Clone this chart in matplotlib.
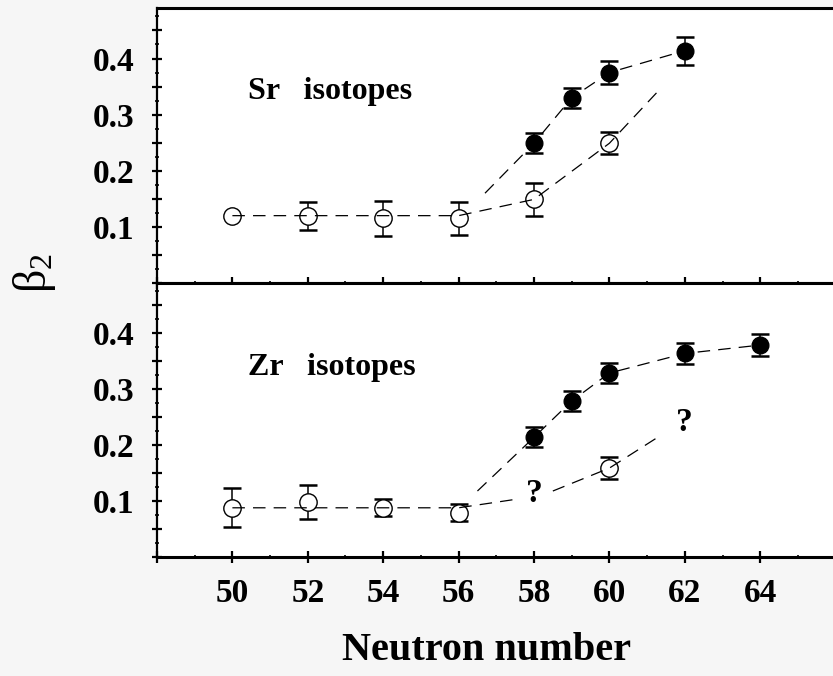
import numpy as np
import matplotlib
matplotlib.use("Agg")
import matplotlib.pyplot as plt
from matplotlib.ticker import MultipleLocator, FuncFormatter

plt.rcParams['font.family'] = ['Liberation Serif', 'DejaVu Serif']
plt.rcParams['mathtext.fontset'] = 'custom'
plt.rcParams['mathtext.rm'] = 'Liberation Serif'
plt.rcParams['mathtext.it'] = 'Liberation Serif:italic'
plt.rcParams['mathtext.bf'] = 'Liberation Serif:bold'

# ---- Sr isotopes ----
sr_open_N = [50, 52, 54, 56, 58, 60]
sr_open_b = [0.120, 0.120, 0.115, 0.115, 0.149, 0.249]
sr_open_err = [0.0, 0.025, 0.032, 0.030, 0.030, 0.020]

sr_full_N = [58, 59, 60, 62]
sr_full_b = [0.249, 0.330, 0.375, 0.414]
sr_full_err = [0.018, 0.018, 0.020, 0.025]

sr_open_guide_N = [50, 56, 58, 60, 61.35]
sr_open_guide_b = [0.120, 0.120, 0.149, 0.249, 0.346]
sr_full_guide_N = [56.7, 58, 59, 60, 62]
sr_full_guide_b = [0.160, 0.249, 0.330, 0.375, 0.414]

# ---- Zr isotopes ----
zr_open_N = [50, 52, 54, 56, 60]
zr_open_b = [0.088, 0.098, 0.088, 0.079, 0.159]
zr_open_err = [0.035, 0.030, 0.015, 0.015, 0.020]

zr_full_N = [58, 59, 60, 62, 64]
zr_full_b = [0.214, 0.279, 0.329, 0.364, 0.379]
zr_full_err = [0.018, 0.018, 0.018, 0.018, 0.020]

zr_open_guide1_N = [50, 56, 57.5]
zr_open_guide1_b = [0.088, 0.088, 0.103]
zr_open_guide2_N = [58.5, 60, 61.28]
zr_open_guide2_b = [0.118, 0.159, 0.214]
zr_full_guide_N = [56.5, 58, 59, 60, 62, 64]
zr_full_guide_b = [0.118, 0.214, 0.279, 0.329, 0.364, 0.379]

zr_question_N = [58, 62]
zr_question_b = [0.098, 0.226]

x_labels = [50, 52, 54, 56, 58, 60, 62, 64]
y_labels = [0.1, 0.2, 0.3, 0.4]

W, H = 833, 676
fig = plt.figure(figsize=(W / 100, H / 100), dpi=100, facecolor='#f6f6f6')

left = 157 / W
width = (835.6 - 157) / W
ax_top = fig.add_axes([left, (H - 283) / H, width, 275 / H])
ax_bot = fig.add_axes([left, (H - 557) / H, width, 274 / H])

dash = (0, (10, 6.5))
bold_font = dict(family='Liberation Serif', weight='bold')


def yfmt(v, pos):
    for t in y_labels:
        if abs(v - t) < 1e-6:
            return f"{t:.1f}"
    return ""


def xfmt(v, pos):
    for t in x_labels:
        if abs(v - t) < 1e-6:
            return f"{t:d}"
    return ""


def style_axes(ax, show_xlabels):
    ax.set_xlim(48, 66)
    ax.set_ylim(0, 0.49)
    ax.set_facecolor('white')
    for s in ['left', 'top', 'bottom', 'right']:
        ax.spines[s].set_linewidth(2.2)
    ax.spines['left'].set_linewidth(1.6)
    ax.yaxis.set_major_locator(MultipleLocator(0.05))
    ax.yaxis.set_minor_locator(MultipleLocator(0.025))
    ax.yaxis.set_major_formatter(FuncFormatter(yfmt))
    ax.xaxis.set_major_locator(MultipleLocator(2))
    ax.xaxis.set_minor_locator(MultipleLocator(1))
    ax.xaxis.set_major_formatter(FuncFormatter(xfmt))
    ax.tick_params(axis='y', which='major', direction='inout', length=7, width=1.6,
                   pad=13, labelsize=24)
    ax.tick_params(axis='y', which='minor', direction='inout', length=3, width=1.2)
    ax.tick_params(axis='x', which='major', direction='inout', length=8, width=1.6,
                   pad=11, labelsize=24, top=False, labelbottom=show_xlabels)
    ax.tick_params(axis='x', which='minor', direction='inout', length=3, width=1.2,
                   top=False)
    for lab in ax.get_yticklabels() + ax.get_xticklabels():
        lab.set_fontweight('bold')
        lab.set_family('Liberation Serif')


def draw_points(ax, N, b, err, filled):
    en = [n for n, e in zip(N, err) if e > 0]
    eb = [v for v, e in zip(b, err) if e > 0]
    ee = [e for e in err if e > 0]
    ax.errorbar(en, eb, yerr=ee, fmt='none', ecolor='black', elinewidth=1.1,
                capsize=6.5, capthick=1.8, zorder=2)
    ax.plot(N, b, 'o', ms=12 if filled else 12.5,
            mfc='black' if filled else 'white', mec='black', mew=1.0,
            ls='none', zorder=3)


def draw_guide(ax, N, b):
    ax.plot(N, b, color='black', lw=0.9, ls=dash, zorder=4)


style_axes(ax_top, False)
style_axes(ax_bot, True)

# Sr panel
draw_points(ax_top, sr_open_N, sr_open_b, sr_open_err, False)
draw_points(ax_top, sr_full_N, sr_full_b, sr_full_err, True)
draw_guide(ax_top, sr_open_guide_N, sr_open_guide_b)
draw_guide(ax_top, sr_full_guide_N, sr_full_guide_b)
ax_top.text(50.41, 0.327, 'Sr   isotopes', fontsize=23, ha='left', va='baseline',
            **bold_font)

# Zr panel
draw_points(ax_bot, zr_open_N, zr_open_b, zr_open_err, False)
draw_points(ax_bot, zr_full_N, zr_full_b, zr_full_err, True)
draw_guide(ax_bot, zr_open_guide1_N, zr_open_guide1_b)
draw_guide(ax_bot, zr_open_guide2_N, zr_open_guide2_b)
draw_guide(ax_bot, zr_full_guide_N, zr_full_guide_b)
ax_bot.text(50.41, 0.325, 'Zr   isotopes', fontsize=23, ha='left', va='baseline',
            **bold_font)
for n, v in zip(zr_question_N, zr_question_b):
    ax_bot.text(n, v, '?', fontsize=24, ha='center', va='baseline', **bold_font)

# Axis titles
fig.text(486 / W, 1 - 650 / H, 'Neutron number', fontsize=29, ha='center',
         va='center', **bold_font)
fig.text(34 / W, 1 - 273 / H, r'$\mathrm{\beta_2}$', fontsize=33, rotation=90,
         ha='center', va='center')

fig.savefig('out.png', dpi=100, facecolor=fig.get_facecolor())
